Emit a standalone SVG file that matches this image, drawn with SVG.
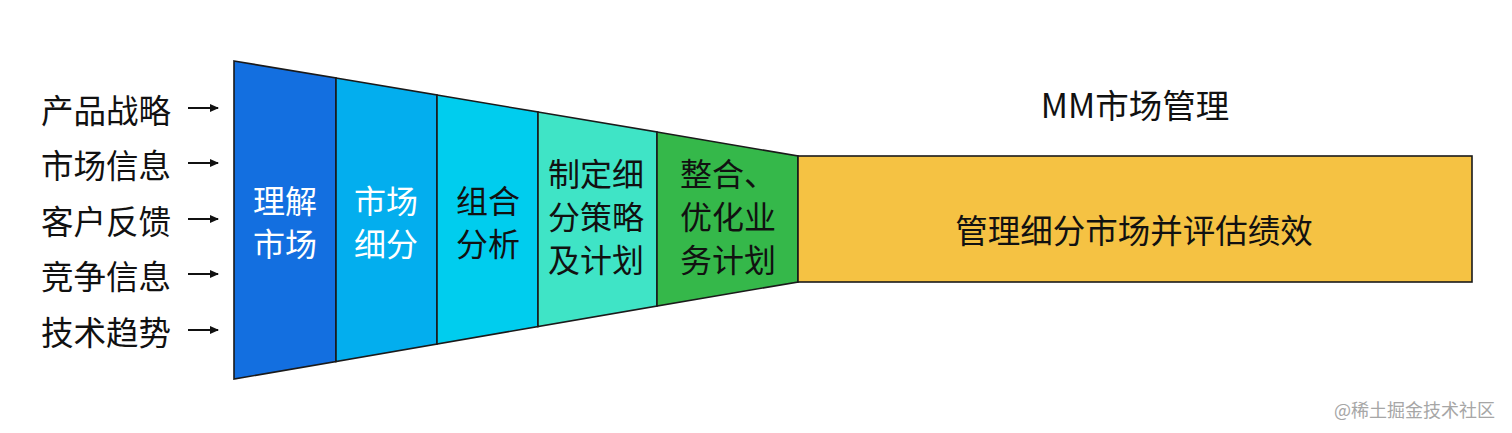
<svg xmlns="http://www.w3.org/2000/svg" width="1512" height="433" viewBox="0 0 1512 433">
<style>
text{font-family:"Noto Sans CJK SC","Noto Sans",sans-serif;dominant-baseline:central;font-weight:400}
.lbl{font-size:32.5px;fill:#111}
.seg{stroke:#1a1a1a;stroke-width:1.6;stroke-linejoin:miter}
.st{font-size:32px;text-anchor:middle}
.w{fill:#fff}
.b{fill:#111}
.arr{stroke:#111;stroke-width:2;fill:none}
</style>
<defs>
<marker id="ah" markerWidth="9" markerHeight="8" refX="8" refY="4" orient="auto" markerUnits="userSpaceOnUse">
<path d="M0,0 L9,4 L0,8 Z" fill="#111"/>
</marker>
</defs>
<rect width="1512" height="433" fill="#fff"/>
<g id="inputs">
<text class="lbl" x="41" y="108">产品战略</text>
<text class="lbl" x="41" y="163">市场信息</text>
<text class="lbl" x="41" y="219">客户反馈</text>
<text class="lbl" x="41" y="274">竞争信息</text>
<text class="lbl" x="41" y="330">技术趋势</text>
</g>
<g id="connectors">
<line class="arr" x1="188" y1="108" x2="218" y2="108" marker-end="url(#ah)"/>
<line class="arr" x1="188" y1="163" x2="218" y2="163" marker-end="url(#ah)"/>
<line class="arr" x1="188" y1="219" x2="218" y2="219" marker-end="url(#ah)"/>
<line class="arr" x1="188" y1="274" x2="218" y2="274" marker-end="url(#ah)"/>
<line class="arr" x1="188" y1="330" x2="218" y2="330" marker-end="url(#ah)"/>
</g>
<g id="seg1">
<polygon class="seg" points="234,61 336,78 336,361.5 234,379" fill="#136fe0"/>
<text class="st w" x="285" y="199">理解</text>
<text class="st w" x="285" y="242">市场</text>
</g>
<g id="seg2">
<polygon class="seg" points="336,78 437,95 437,344 336,361.5" fill="#03aeee"/>
<text class="st w" x="386" y="199">市场</text>
<text class="st w" x="386" y="242">细分</text>
</g>
<g id="seg3">
<polygon class="seg" points="437,95 538,112 538,326.5 437,344" fill="#00cdee"/>
<text class="st b" x="488" y="199">组合</text>
<text class="st b" x="488" y="242">分析</text>
</g>
<g id="seg4">
<polygon class="seg" points="538,112 657,132 657,306 538,326.5" fill="#3fe4c6"/>
<text class="st b" x="596" y="172">制定细</text>
<text class="st b" x="596" y="215">分策略</text>
<text class="st b" x="596" y="258">及计划</text>
</g>
<g id="seg5">
<polygon class="seg" points="657,132 798,156 798,282 657,306" fill="#35b84a"/>
<text class="st b" x="728" y="172">整合、</text>
<text class="st b" x="728" y="215">优化业</text>
<text class="st b" x="728" y="258">务计划</text>
</g>
<g id="manage">
<rect class="seg" x="798" y="156" width="674" height="126" fill="#f5c243"/>
<text class="st b" x="1134" y="228" style="font-size:32.5px">管理细分市场并评估绩效</text>
</g>
<g id="title">
<text class="st b" x="1135" y="103" style="font-size:33.5px">MM市场管理</text>
</g>
<text x="1495" y="409" style="font-size:18px;fill:#a6a6a6;text-anchor:end">@稀土掘金技术社区</text>
</svg>
